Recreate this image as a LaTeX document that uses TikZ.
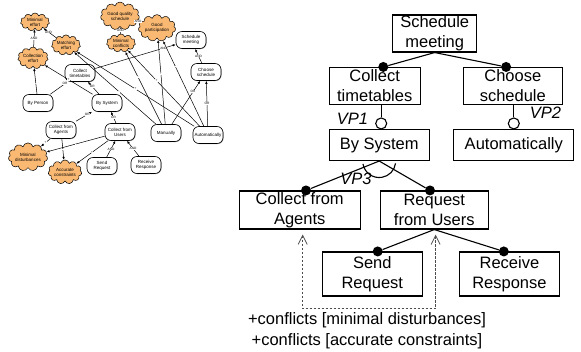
\documentclass[tikz,border=0pt]{standalone}
\usepackage{fontspec}
\setmainfont{Liberation Sans}
\usetikzlibrary{positioning,shapes.symbols,arrows.meta,shadows}

\definecolor{softorange}{RGB}{250,185,115}

\begin{document}
\begin{tikzpicture}
		[x=1pt,y=1pt,
		goal/.style={draw,rounded corners=6pt,fill=white,line width=0.6pt,align=center,font=\fontsize{4.5}{5}\selectfont,inner sep=1pt,minimum width=30pt,minimum height=17pt,drop shadow={shadow xshift=0.6pt,shadow yshift=-0.6pt,fill=black!70}},
		soft/.style={cloud,cloud puffs=11,aspect=1.7,draw,fill=softorange,line width=0.5pt,align=center,font=\fontsize{4.5}{5}\selectfont,inner sep=0pt,minimum width=29pt,minimum height=18pt},
		link/.style={-{Latex[length=3pt,width=2.4pt]},line width=0.5pt},
		tag/.style={font=\fontsize{3.2}{3.5}\selectfont,fill=white,inner sep=0.3pt},
		feat/.style={draw,rectangle,line width=1.1pt,align=center,font=\fontsize{16.5}{20}\selectfont,inner xsep=2pt,inner ysep=0.5pt,minimum height=37pt},
		fline/.style={line width=1.1pt},
		dot/.style={circle,fill=black,inner sep=0pt,minimum size=10pt},
		vp/.style={circle,draw,fill=white,line width=1.1pt,inner sep=0pt,minimum size=11pt},
		vplabel/.style={font=\fontsize{16.5}{20}\selectfont\itshape},
		confl/.style={{Straight Barb[length=9pt,width=9pt]}-{Straight Barb[length=9pt,width=9pt]},dash pattern=on 2.5pt off 1.5pt,black!70,line width=0.8pt,shorten <=5pt,shorten >=5pt}]
		\useasboundingbox (0,0) rectangle (581,-351);

		% goal model: softgoals
		\node [soft] (s1) at (35,-22) {Minimal\\effort};
		\node [soft] (s2) at (66,-45) {Matching\\effort};
		\node [soft] (s3) at (33,-58) {Collection\\effort};
		\node [soft] (s4) at (120,-16) {Good quality\\schedule};
		\node [soft] (s5) at (157,-28) {Good\\participation};
		\node [soft] (s6) at (121,-43) {Minimal\\conflicts};
		\node [soft] (s7) at (28,-157) {Minimal\\disturbances};
		\node [soft] (s8) at (65,-172) {Accurate\\constraints};

		% goal model: hard goals
		\node [goal] (g1) at (191,-40) {Schedule\\meeting};
		\node [goal] (g2) at (80,-73) {Collect\\timetables};
		\node [goal] (g3) at (206,-72) {Choose\\schedule};
		\node [goal] (g4) at (38,-103) {By Person};
		\node [goal] (g5) at (107,-103) {By System};
		\node [goal] (g6) at (61,-130) {Collect from\\Agents};
		\node [goal] (g7) at (120,-132) {Collect from\\Users};
		\node [goal] (g8) at (102,-166) {Send\\Request};
		\node [goal] (g9) at (146,-165) {Receive\\Response};
		\node [goal] (g10) at (166,-133) {Manually};
		\node [goal] (g11) at (208,-135) {Automatically};

		% decompositions
		\draw [link] (s2) -- (s1) node [tag,pos=.6] {AND};
		\draw [link] (s3) -- (s1) node [tag,pos=.5] {AND};
		\draw [link] (s6) -- (s4) node [tag,pos=.5] {AND};
		\draw [link] (s5) -- (s4) node [tag,pos=.6] {AND};
		\draw [link] (g2) -- (g1) node [tag,pos=.85] {AND};
		\draw [link] (g3) -- (g1) node [tag,pos=.5] {AND};
		\draw [link] (g4) -- (g2) node [tag,pos=.85] {OR};
		\draw [link] (g5) -- (g2) node [tag,pos=.6] {OR};
		\draw [link] (g6) -- (g5) node [tag,pos=.7] {OR};
		\draw [link] (g7) -- (g5) node [tag,pos=.5] {OR};
		\draw [link] (g8) -- (g7) node [tag,pos=.5] {AND};
		\draw [link] (g9) -- (g7) node [tag,pos=.5] {AND};
		\draw [link] (g10) -- (g3) node [tag,pos=.75] {OR};
		\draw [link] (g11) -- (g3) node [tag,pos=.5] {OR};

		% contributions
		\draw [link] (g4) -- (s3) node [tag,pos=.4] {-};
		\draw [link] (g5) -- (s3) node [tag,pos=.5] {+};
		\draw [link] (g6) -- (s7) node [tag,pos=.5] {+};
		\draw [link] (g6) -- (s8) node [tag,pos=.5] {-};
		\draw [link] (g7) -- (s7) node [tag,pos=.5] {-};
		\draw [link] (g7) -- (s8) node [tag,pos=.5] {+};
		\draw [link] (g10) -- (s2) node [tag,pos=.45] {-};
		\draw [link] (g11) -- (s2) node [tag,pos=.5] {+};
		\draw [link] (g10) -- (s6) node [tag,pos=.65] {-};
		\draw [link] (g11) -- (s6) node [tag,pos=.6] {+};
		\draw [link] (g10) -- (s5) node [tag,pos=.6] {+};
		\draw [link] (g11) -- (s5) node [tag,pos=.7] {-};

		% feature model
		\node [feat,minimum width=84pt] (f1) at (434.7,-33.5) {Schedule\\meeting};
		\node [feat,minimum width=91pt] (f2) at (374.7,-86) {Collect\\timetables};
		\node [feat,minimum width=99pt] (f3) [right=42pt of f2] {Choose\\schedule};
		\node [feat,minimum width=100pt,minimum height=31pt] (f4) at (379.2,-145) {By System};
		\node [feat,minimum width=120pt,minimum height=31pt] (f5) [right=23.5pt of f4] {Automatically};
		\node [feat,minimum width=121pt,minimum height=38pt] (f6) at (299.7,-210) {Collect from\\Agents};
		\node [feat,minimum width=108pt,minimum height=38pt] (f7) [right=19pt of f6] {Request\\from Users};
		\node [feat,minimum width=100pt,minimum height=44pt] (f8) at (372.3,-274) {Send\\Request};
		\node [feat,minimum width=100pt,minimum height=44pt] (f9) [right=36pt of f8] {Receive\\Response};

		% mandatory features
		\node [dot] (d1) at ([xshift=8.6pt]f2.north) {};
		\node [dot] (d2) at ([xshift=-6.7pt]f3.north) {};
		\node [dot] (d3) at ([xshift=6.3pt]f6.north) {};
		\node [dot] (d4) at ([xshift=-4.3pt]f7.north) {};
		\node [dot] (d5) at ([xshift=5.4pt]f8.north) {};
		\node [dot] (d6) at ([xshift=-5.6pt]f9.north) {};
		\draw [fline] (f1.south) -- (d1);
		\draw [fline] (f1.south) -- (d2);
		\draw [fline] (f4.south) -- (d3);
		\draw [fline] (f4.south) -- (d4);
		\draw [fline] (f7.south) -- (d5);
		\draw [fline] (f7.south) -- (d6);

		% variation points
		\node [vp] (v1) at ([xshift=2pt,yshift=5.5pt]f4.north) {};
		\node [vp] (v2) at ([yshift=5.5pt]f5.north) {};
		\draw [fline] (v1) -- (v1 |- f2.south);
		\draw [fline] (v2) -- (v2 |- f3.south);
		\draw [fline] ([shift={(190:16.5)}]f4.south) arc [start angle=190,end angle=352,radius=16.5];
		\node [vplabel] (l1) at (352.5,-118.5) {VP1};
		\node [vplabel] (l2) at (545.5,-113) {VP2};
		\node [vplabel] (l3) at (356,-179) {VP3};

		% conflict between the two alternatives
		\draw [confl] ([xshift=3pt]f6.south) -- ++(0,-79.3) -| ([xshift=1.3pt]f7.south);
		\node [font=\fontsize{16.5}{21}\selectfont,align=center] (cf) at (367,-330.5) {+conflicts [minimal disturbances]\\+conflicts [accurate constraints]};

	\end{tikzpicture}
\end{document}
